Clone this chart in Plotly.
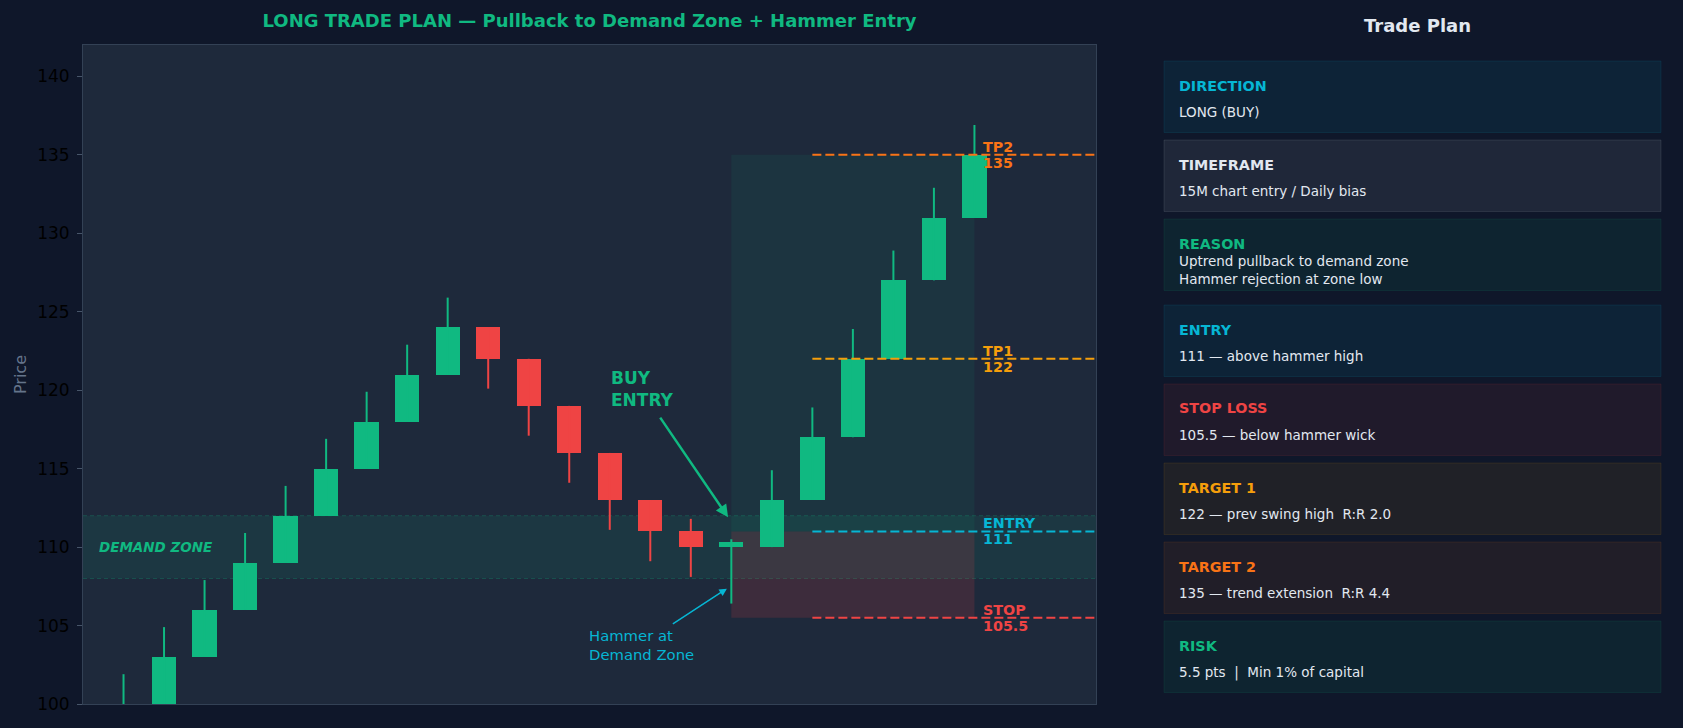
import plotly.graph_objects as go

W, H = 1683, 728
ML, MR, MT, MB = 83, 587, 45, 24

BG = "#0f172a"
PLOT_BG = "#1e293b"
BORDER = "#334155"
GREEN = "#10b981"
RED = "#ef4444"
CYAN = "#06b6d4"
AMBER = "#f59e0b"
ORANGE = "#f97316"
TEXT = "#e2e8f0"
MUTED = "#64748b"
FONT = "DejaVu Sans"

# candles (index, open, high, low, close)
candle_idx = list(range(22))
opens = [97, 100, 103, 106, 109, 112, 115, 118, 121, 124, 122, 119, 116, 113, 111, 110, 110, 113, 117, 122, 127, 131]
highs = [101.9, 104.9, 107.9, 110.9, 113.9, 116.9, 119.9, 122.9, 125.9, 124, 122, 119, 116, 113, 111.8, 110.5, 114.9, 118.9, 123.9, 128.9, 132.9, 136.9]
lows = [97, 100, 103, 106, 109, 112, 115, 118, 121, 120.1, 117.1, 114.1, 111.1, 109.1, 108.1, 106.4, 110, 113, 117, 122, 127, 131]
closes = [100, 103, 106, 109, 112, 115, 118, 121, 124, 122, 119, 116, 113, 111, 110, 110.3, 113, 117, 122, 127, 131, 135]

# trade plan levels
demand_low, demand_high = 108, 112
hammer_idx = 15
box_end_idx = 21
level_start_idx = 17
entry_price = 111
stop_price = 105.5
tp2_price = 135
level_names = ["TP2", "TP1", "ENTRY", "STOP"]
level_values = [135, 122, 111, 105.5]
level_texts = ["135", "122", "111", "105.5"]
level_colors = [ORANGE, AMBER, CYAN, RED]

# callouts: text position, arrow tail, arrow head
buy_text_xy = (12.8, 120.05)
buy_tail_xy = (13.22, 118.35)
buy_head_xy = (14.92, 111.9)
hammer_text_xy = (12.79, 103.75)
hammer_tail_xy = (13.52, 105.05)
hammer_head_xy = (14.89, 107.35)

# side panel cards
card_titles = ["DIRECTION", "TIMEFRAME", "REASON", "ENTRY", "STOP LOSS", "TARGET 1", "TARGET 2", "RISK"]
card_bodies = [
    "LONG (BUY)",
    "15M chart entry / Daily bias",
    "Uptrend pullback to demand zone<br>Hammer rejection at zone low",
    "111 — above hammer high",
    "105.5 — below hammer wick",
    "122 — prev swing high \u00a0R:R 2.0",
    "135 — trend extension \u00a0R:R 4.4",
    "5.5 pts \u00a0| \u00a0Min 1% of capital",
]
card_colors = [CYAN, TEXT, GREEN, CYAN, RED, AMBER, ORANGE, GREEN]
card_tops = [61, 140, 219, 305, 384, 463, 542, 621]
CARD_H = 71.5
CARD_X0, CARD_X1 = 1164, 1661


def px(x):
    return (x - ML) / (W - ML - MR)


def py(y):
    return (H - MB - y) / (H - MT - MB)


def rgba(hex_color, a):
    h = hex_color.lstrip("#")
    r, g, b = int(h[0:2], 16), int(h[2:4], 16), int(h[4:6], 16)
    return f"rgba({r},{g},{b},{a})"


fig = go.Figure()

# wicks
for up, col in [(True, GREEN), (False, RED)]:
    wx, wy = [], []
    for i, o, hi, lo, c in zip(candle_idx, opens, highs, lows, closes):
        if (c >= o) == up:
            wx += [i, i, None]
            wy += [lo, hi, None]
    fig.add_trace(go.Scatter(x=wx, y=wy, mode="lines", line=dict(color=col, width=2),
                             hoverinfo="skip", showlegend=False))

# bodies
fig.add_trace(go.Bar(
    x=candle_idx,
    y=[abs(c - o) for o, c in zip(opens, closes)],
    base=[min(o, c) for o, c in zip(opens, closes)],
    width=0.6,
    marker=dict(color=[GREEN if c >= o else RED for o, c in zip(opens, closes)], line=dict(width=0)),
    showlegend=False,
))

# demand zone
fig.add_shape(type="rect", xref="paper", x0=0, x1=1, y0=demand_low, y1=demand_high,
              fillcolor=rgba(GREEN, 0.10), line=dict(width=0), layer="below")
for yv in [demand_low, demand_high]:
    fig.add_shape(type="line", xref="paper", x0=0, x1=1, y0=yv, y1=yv,
                  line=dict(color=rgba(GREEN, 0.25), width=1, dash="4px,3px"), layer="below")

# reward / risk boxes
fig.add_shape(type="rect", x0=hammer_idx, x1=box_end_idx, y0=entry_price, y1=tp2_price,
              fillcolor=rgba(GREEN, 0.08), line=dict(width=0), layer="below")
fig.add_shape(type="rect", x0=hammer_idx, x1=box_end_idx, y0=stop_price, y1=entry_price,
              fillcolor=rgba(RED, 0.15), line=dict(width=0), layer="below")

# level lines + labels
for name, val, txt, col in zip(level_names, level_values, level_texts, level_colors):
    fig.add_shape(type="line", x0=level_start_idx, x1=24, y0=val, y1=val,
                  line=dict(color=col, width=2, dash="9px,4px"))
    fig.add_annotation(x=21.15, y=val, text=f"<b>{name}</b>", showarrow=False, xanchor="left",
                       yanchor="middle", yshift=8, font=dict(family=FONT, size=14.3, color=col))
    fig.add_annotation(x=21.15, y=val, text=f"<b>{txt}</b>", showarrow=False, xanchor="left",
                       yanchor="middle", yshift=-8, font=dict(family=FONT, size=14.3, color=col))

fig.add_annotation(x=-0.65, y=(demand_low + demand_high) / 2, text="<b><i>DEMAND ZONE</i></b>",
                   showarrow=False, xanchor="left", yanchor="middle",
                   font=dict(family=FONT, size=13.5, color=GREEN))

# callout texts
fig.add_annotation(x=buy_text_xy[0], y=buy_text_xy[1], text="<b>BUY<br>ENTRY</b>", align="left",
                   showarrow=False, font=dict(family=FONT, size=17, color=GREEN))
fig.add_annotation(x=hammer_text_xy[0], y=hammer_text_xy[1], text="Hammer at<br>Demand Zone", align="left",
                   showarrow=False, font=dict(family=FONT, size=14.8, color=CYAN))

# callout arrows
fig.add_annotation(x=buy_head_xy[0], y=buy_head_xy[1], ax=buy_tail_xy[0], ay=buy_tail_xy[1],
                   axref="x", ayref="y", text="", showarrow=True, arrowhead=2, arrowsize=1,
                   arrowwidth=2.5, arrowcolor=GREEN, standoff=0)
fig.add_annotation(x=hammer_head_xy[0], y=hammer_head_xy[1], ax=hammer_tail_xy[0], ay=hammer_tail_xy[1],
                   axref="x", ayref="y", text="", showarrow=True, arrowhead=2, arrowsize=1,
                   arrowwidth=1.5, arrowcolor=CYAN, standoff=0)

# side panel
fig.add_annotation(xref="paper", yref="paper", x=px(1417), y=py(25), text="<b>Trade Plan</b>",
                   showarrow=False, xanchor="center", yanchor="middle",
                   font=dict(family=FONT, size=18, color=TEXT))

for title, body, col, top in zip(card_titles, card_bodies, card_colors, card_tops):
    fig.add_shape(type="rect", xref="paper", yref="paper",
                  x0=px(CARD_X0), x1=px(CARD_X1), y0=py(top + CARD_H), y1=py(top),
                  fillcolor=rgba(col, 0.08), line=dict(color=rgba(col, 0.10), width=1))
    fig.add_annotation(xref="paper", yref="paper", x=px(CARD_X0 + 13), y=py(top + 24.5),
                       text=f"<b>{title}</b>", showarrow=False, xanchor="left", yanchor="middle",
                       font=dict(family=FONT, size=14.3, color=col))
    fig.add_annotation(xref="paper", yref="paper", x=px(CARD_X0 + 13), y=py(top + 51),
                       text=body, showarrow=False, xanchor="left", yanchor="middle", align="left",
                       font=dict(family=FONT, size=13.5, color=TEXT))

fig.update_layout(
    width=W, height=H,
    margin=dict(l=ML, r=MR, t=MT, b=MB),
    paper_bgcolor=BG, plot_bgcolor=PLOT_BG,
    font=dict(family=FONT),
    title=dict(text="<b>LONG TRADE PLAN — Pullback to Demand Zone + Hammer Entry</b>",
               x=0.5, xref="paper", xanchor="center", y=1 - 21 / H, yanchor="middle",
               font=dict(family=FONT, size=18, color=GREEN)),
    showlegend=False,
    bargap=0,
)
fig.update_xaxes(range=[-1, 24], showticklabels=False, ticks="", showgrid=False, zeroline=False,
                 showline=True, linecolor=BORDER, linewidth=1, mirror=True)
fig.update_yaxes(range=[100, 142], tick0=100, dtick=5, ticks="outside", ticklen=5, tickcolor="#475569",
                 tickfont=dict(family=FONT, size=17, color="#000000"), ticklabelstandoff=4,
                 showgrid=False, zeroline=False, showline=True, linecolor=BORDER, linewidth=1, mirror=True,
                 title=dict(text="Price", font=dict(family=FONT, size=16, color=MUTED), standoff=6))

fig.write_html("out.html", config={"displayModeBar": False},
               post_script="document.body.style.margin='0';")
